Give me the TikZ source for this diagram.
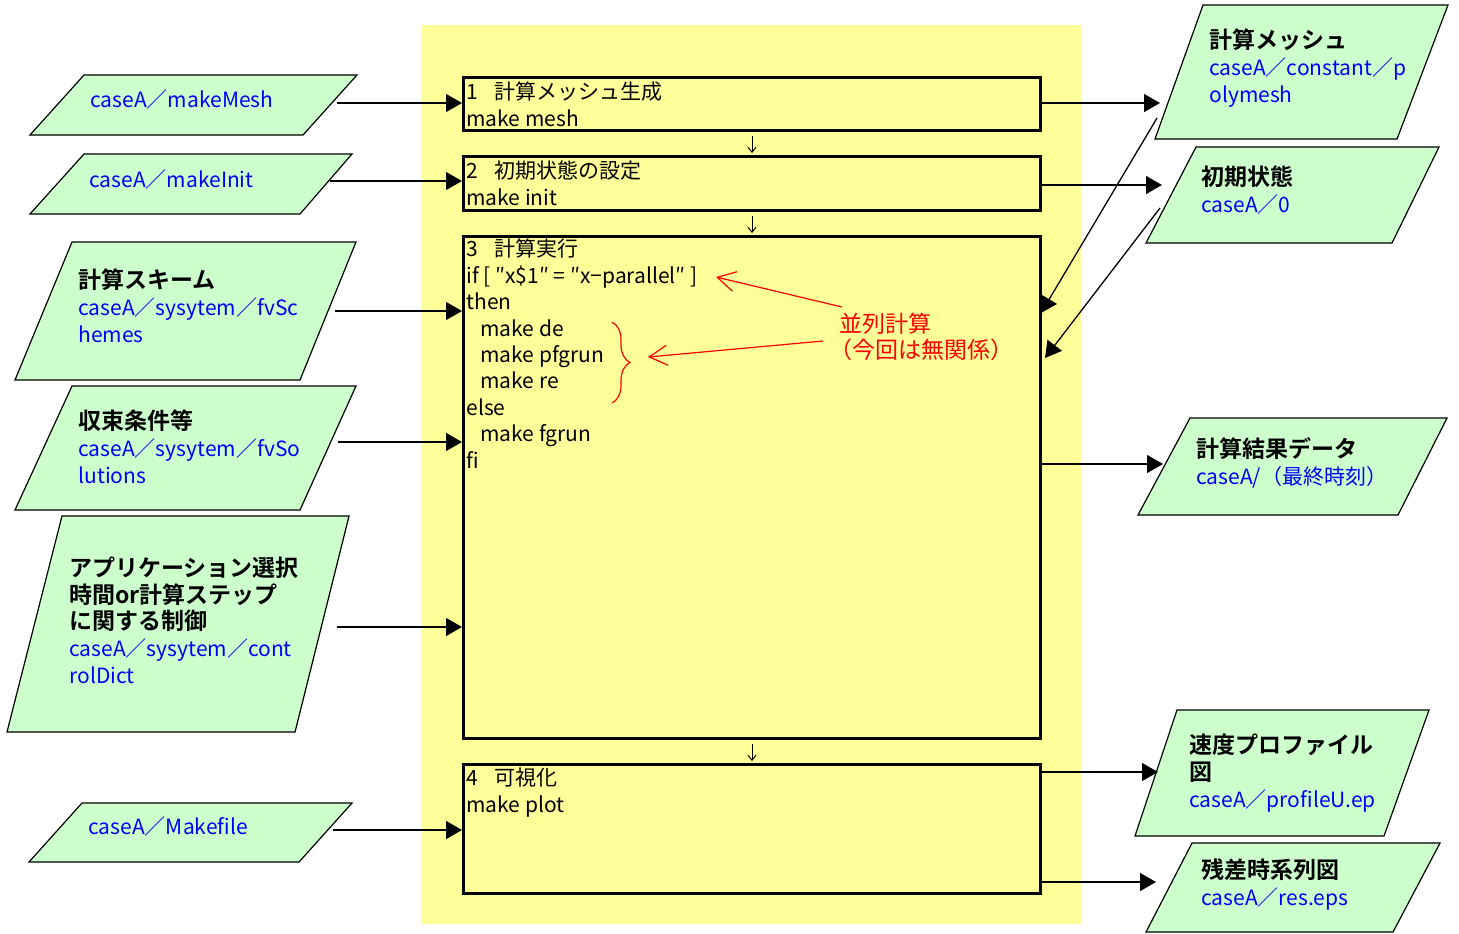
\documentclass[tikz,border=0pt]{standalone}
\usepackage{fontspec}
\setmainfont{Noto Sans CJK JP}[BoldFont={Noto Sans CJK JP Bold}]
\usetikzlibrary{arrows.meta, positioning, decorations.pathreplacing}
\definecolor{bgyellow}{HTML}{FFFF99}
\definecolor{datagreen}{HTML}{CCFFCC}
\newcommand{\fname}[1]{{\color{blue}\fontsize{10.5}{13.3}\selectfont #1}}
\newcommand{\dname}[1]{{\bfseries\fontsize{11.5}{13.3}\selectfont #1}}
\tikzset{
  procbox/.style={rectangle, draw, line width=1.5pt, minimum width=288.5pt, inner sep=0pt},
  dataform/.style={draw, fill=datagreen, line width=0.6pt},
  % texts are placed by the baseline of their last line
  boxtext/.style={anchor=base west, inner sep=0pt, align=left,
    font=\fontsize{10.5}{13.2}\selectfont},
  datatext/.style={anchor=base west, inner sep=0pt, align=left,
    font=\fontsize{11}{13.3}\selectfont},
  arr/.style={-{Triangle[length=8pt, width=9pt]}, line width=0.65pt},
  flow/.style={-{Straight Barb[length=2.5pt, width=4pt]}, line width=0.5pt},
  note/.style={red, -{Straight Barb[length=9pt, width=10pt]}, line width=0.6pt},
}

\begin{document}
\begin{tikzpicture}[x=0.5pt, y=-0.5pt]
  \useasboundingbox (0,0) rectangle (1459,933);
  \fill[bgyellow] (421,25) rectangle (1081,924);

  % Process boxes
  \node[procbox, minimum height=26.5pt, anchor=north west] (mesh) at (462,76) {};
  \node[procbox, minimum height=27pt, below=11.5pt of mesh] (init) {};
  \node[procbox, minimum height=251pt, below=11.5pt of init] (run) {};
  \node[procbox, minimum height=64.5pt, below=11.5pt of run] (plot) {};

  \node[boxtext] (meshtxt) at (466,126) {1\hspace{0.8em}計算メッシュ生成\\make mesh};
  \node[boxtext] (inittxt) at (466,205) {2\hspace{0.8em}初期状態の設定\\make init};
  \node[boxtext] (runtxt) at (466,468) {3\hspace{0.8em}計算実行\\
    if [ ″x\$1″ = ″x−parallel″ ]\\
    then\\
    \hspace*{7pt}make de\\
    \hspace*{7pt}make pfgrun\\
    \hspace*{7pt}make re\\
    else\\
    \hspace*{7pt}make fgrun\\
    fi};
  \node[boxtext] (plottxt) at (466,812) {4\hspace{0.8em}可視化\\make plot};

  \draw[flow, shorten <=2pt, shorten >=1pt] (mesh) -- (init);
  \draw[flow, shorten <=2pt, shorten >=1pt] (init) -- (run);
  \draw[flow, shorten <=2pt, shorten >=1pt] (run) -- (plot);

  % Input data (left)
  \filldraw[dataform] (84,75) -- (357,75) -- (303,135) -- (30,135) -- cycle;
  \node[datatext] (mkmesh) at (90,107) {\fname{caseA／makeMesh}};
  \filldraw[dataform] (84,154) -- (352,154) -- (300,214) -- (30,214) -- cycle;
  \node[datatext] (mkinit) at (89,187) {\fname{caseA／makeInit}};
  \filldraw[dataform] (72,242) -- (356,242) -- (300,380) -- (15,380) -- cycle;
  \node[datatext] (schemes) at (78,342) {\dname{計算スキーム}\\\fname{caseA／sysytem／fvSc}\\\fname{hemes}};
  \filldraw[dataform] (72,386) -- (356,386) -- (300,510) -- (15,510) -- cycle;
  \node[datatext] (solutions) at (78,483) {\dname{収束条件等}\\\fname{caseA／sysytem／fvSo}\\\fname{lutions}};
  \filldraw[dataform] (62,516) -- (349,516) -- (295,732) -- (7,732) -- cycle;
  \node[datatext] (control) at (69,683) {\dname{アプリケーション選択}\\\dname{時間or計算ステップ}\\\dname{に関する制御}\\\fname{caseA／sysytem／cont}\\\fname{rolDict}};
  \filldraw[dataform] (82,803) -- (352,803) -- (299,862) -- (29,862) -- cycle;
  \node[datatext] (makefile) at (88,834) {\fname{caseA／Makefile}};

  \coordinate (mkmeshout) at (337,103);
  \coordinate (mkinitout) at (330,181);
  \coordinate (schemesout) at (335,311);
  \coordinate (solutionsout) at (338,442);
  \coordinate (controlout) at (337,627);
  \coordinate (makefileout) at (333,830);
  \draw[arr] (mkmeshout) -- (mkmeshout -| mesh.west);
  \draw[arr] (mkinitout) -- (mkinitout -| init.west);
  \draw[arr] (schemesout) -- (schemesout -| run.west);
  \draw[arr] (solutionsout) -- (solutionsout -| run.west);
  \draw[arr] (controlout) -- (controlout -| run.west);
  \draw[arr] (makefileout) -- (makefileout -| plot.west);

  % Output data (right)
  \filldraw[dataform] (1203,5) -- (1448,5) -- (1397,139) -- (1155,139) -- cycle;
  \node[datatext] (polymesh) at (1209,102) {\dname{計算メッシュ}\\\fname{caseA／constant／p}\\\fname{olymesh}};
  \filldraw[dataform] (1196,147) -- (1439,147) -- (1392,243) -- (1146,243) -- cycle;
  \node[datatext] (zero) at (1201,212) {\dname{初期状態}\\\fname{caseA／0}};
  \filldraw[dataform] (1190,418) -- (1447,418) -- (1398,515) -- (1138,515) -- cycle;
  \node[datatext] (result) at (1196,484) {\dname{計算結果データ}\\\fname{caseA/（最終時刻）}};
  \filldraw[dataform] (1177,710) -- (1429,710) -- (1384,836) -- (1135,836) -- cycle;
  \node[datatext] (profile) at (1189,807) {\dname{速度プロファイル}\\\dname{図}\\\fname{caseA／profileU.ep}};
  \filldraw[dataform] (1192,843) -- (1440,843) -- (1393,932) -- (1146,932) -- cycle;
  \node[datatext] (residual) at (1201,905) {\dname{残差時系列図}\\\fname{caseA／res.eps}};

  \coordinate (polymeshin) at (1160,103);
  \coordinate (zeroin) at (1162,185);
  \coordinate (resultin) at (1163,464);
  \coordinate (profilein) at (1158,772);
  \coordinate (residualin) at (1156,882);
  \draw[arr] (polymeshin -| mesh.east) -- (polymeshin);
  \draw[arr] (zeroin -| init.east) -- (zeroin);
  \draw[arr] (resultin -| run.east) -- (resultin);
  \draw[arr] (profilein -| plot.east) -- (profilein);
  \draw[arr] ([xshift=-1.5pt]residualin -| plot.east) -- (residualin);

  % Read back into step 3
  \coordinate (polymeshout) at (1157,118);
  \coordinate (zeroout) at (1160,208);
  \coordinate (runin1) at (1041,313);
  \coordinate (runin2) at (1045,358);
  \draw[arr] (polymeshout) -- (runin1);
  \draw[arr] (zeroout) -- (runin2);

  % Parallel note
  \node[boxtext, red, font=\fontsize{11.5}{13}\selectfont] (parallel) at (839,358) {並列計算\\\hspace*{-5pt}（今回は無関係）};
  \coordinate (parfrom1) at (842,307);
  \coordinate (parfrom2) at (823,341);
  \coordinate (iftest) at (716,277);
  \coordinate (bracetip) at (648,357);
  \draw[note] (parfrom1) -- (iftest);
  \draw[note] (parfrom2) -- (bracetip);
  \draw[red, line width=0.6pt, decorate, decoration={brace, amplitude=9pt}] (612,322) -- (612,403);
\end{tikzpicture}
\end{document}
